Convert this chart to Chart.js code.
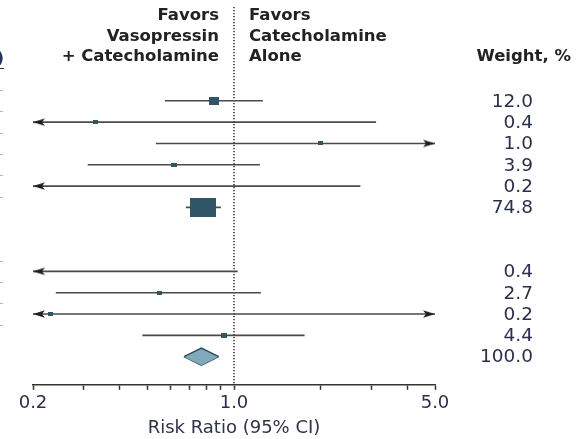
<!DOCTYPE html>
<html>
<head>
<meta charset="utf-8">
<script src="https://cdn.jsdelivr.net/npm/chart.js@4.4.1/dist/chart.umd.min.js"></script>
<style>
  html, body { margin: 0; padding: 0; background: #ffffff; }
  #wrap { width: 583px; height: 439px; }
</style>
</head>
<body>
<div id="wrap"><canvas id="forest" width="583" height="439"></canvas></div>
<script>
// Study-level risk ratios (rows in display order; null rows are subgroup spacers)
const studyWeights = [12.0, 0.4, 1.0, 3.9, 0.2, 74.8, null, null, 0.4, 2.7, 0.2, 4.4];
const riskRatio    = [0.85, 0.33, 2.00, 0.62, 0.10, 0.78, null, null, 0.12, 0.55, 0.23, 0.92];
const ciLower      = [0.575, 0.03, 0.535, 0.31, 0.01, 0.68, null, null, 0.01, 0.24, 0.02, 0.48];
const ciUpper      = [1.26, 3.12, 8.00, 1.23, 2.75, 0.90, null, null, 1.03, 1.24, 12.0, 1.76];

// Pooled estimate
const pooledRR     = [0.77];
const pooledLower  = [0.67];
const pooledUpper  = [0.885];
const pooledWeight = [100.0];

// Axis ticks
const majorTicks = [0.2, 1.0, 5.0];
const minorTicks = [0.3, 0.4, 0.5, 0.6, 0.7, 0.8, 0.9, 2, 3, 4];

const X_MIN = 0.2, X_MAX = 5.0;
const Y_TOP = -4.4, Y_BOTTOM = 13.32;
const pooledRow = studyWeights.length;

const BOX_COLOR = '#2f5666';
const LINE_COLOR = '#4a4a4a';
const TEXT_DARK = '#222222';
const NUM_COLOR = '#2a3048';

// Small canvases used as point glyphs
function makeBox(w, h) {
  const c = document.createElement('canvas');
  c.width = Math.round(w); c.height = Math.round(h);
  const g = c.getContext('2d');
  g.fillStyle = BOX_COLOR;
  g.fillRect(0, 0, c.width, c.height);
  return c;
}
function makeArrow(dir) {
  const L = 12, H = 3.8;
  const c = document.createElement('canvas');
  c.width = 2 * L + 2; c.height = 10;
  const g = c.getContext('2d');
  const cx = c.width / 2, cy = c.height / 2;
  g.fillStyle = '#1e1e1e';
  g.beginPath();
  g.moveTo(cx, cy);
  g.lineTo(cx + dir * L, cy - H);
  g.lineTo(cx + dir * (L - 3), cy);
  g.lineTo(cx + dir * L, cy + H);
  g.closePath();
  g.fill();
  return c;
}
const leftArrow = makeArrow(1);   // tip at centre, pointing left
const rightArrow = makeArrow(-1); // tip at centre, pointing right

// Build datasets
const datasets = [];

// Point estimate boxes (size grows with weight)
const boxPoints = [], boxGlyphs = [];
riskRatio.forEach((rr, i) => {
  if (rr === null) return;
  const w = Math.max(4.5, 3 * Math.sqrt(studyWeights[i]));
  boxPoints.push({ x: rr, y: i });
  boxGlyphs.push(makeBox(w, Math.max(3.5, w * 0.74)));
});
datasets.push({
  type: 'scatter', data: boxPoints, order: 0,
  pointStyle: ctx => boxGlyphs[ctx.dataIndex],
  pointRadius: 6, pointHoverRadius: 6
});

// Arrowheads for intervals running past the axis limits
const arrowPts = [], arrowGlyphs = [];
ciLower.forEach((lo, i) => {
  if (lo === null) return;
  if (lo < X_MIN) { arrowPts.push({ x: X_MIN, y: i }); arrowGlyphs.push(leftArrow); }
  if (ciUpper[i] > X_MAX) { arrowPts.push({ x: X_MAX, y: i }); arrowGlyphs.push(rightArrow); }
});
datasets.push({
  type: 'scatter', data: arrowPts, order: 1, clip: false,
  pointStyle: ctx => arrowGlyphs[ctx.dataIndex],
  pointRadius: 6, pointHoverRadius: 6
});

// Confidence interval lines
ciLower.forEach((lo, i) => {
  if (lo === null) return;
  datasets.push({
    type: 'scatter', showLine: true, order: 2,
    data: [{ x: lo, y: i }, { x: ciUpper[i], y: i }],
    borderColor: LINE_COLOR, borderWidth: 1.6, pointRadius: 0, pointHoverRadius: 0
  });
});

// Pooled diamond: upper and lower halves, filled between
datasets.push({
  type: 'scatter', showLine: true, order: 1,
  data: [{ x: pooledLower[0], y: pooledRow }, { x: pooledRR[0], y: pooledRow - 0.4 }, { x: pooledUpper[0], y: pooledRow }],
  borderColor: '#2e4b59', borderWidth: 1.4, pointRadius: 0,
  backgroundColor: '#80a9bb', fill: '+1', tension: 0
});
datasets.push({
  type: 'scatter', showLine: true, order: 1,
  data: [{ x: pooledLower[0], y: pooledRow }, { x: pooledRR[0], y: pooledRow + 0.4 }, { x: pooledUpper[0], y: pooledRow }],
  borderColor: '#2e4b59', borderWidth: 1.4, pointRadius: 0, fill: false, tension: 0
});

// Line of no effect
datasets.push({
  type: 'scatter', showLine: true, order: 3,
  data: [{ x: 1, y: Y_TOP }, { x: 1, y: Y_BOTTOM }],
  borderColor: '#2a2a2a', borderWidth: 1.5, borderDash: [1.2, 1.8], pointRadius: 0
});

// Text and decorations outside the plotting area
const annotations = {
  id: 'forestText',
  afterDraw(chart) {
    const { ctx, chartArea, scales: { x, y } } = chart;
    const x1 = x.getPixelForValue(1);
    ctx.save();

    // Column headers
    ctx.fillStyle = TEXT_DARK;
    ctx.font = 'bold 16.5px "DejaVu Sans"';
    ctx.textBaseline = 'alphabetic';
    ctx.textAlign = 'right';
    ['Favors', 'Vasopressin', '+ Catecholamine'].forEach((t, k) => ctx.fillText(t, x1 - 15, 20 + k * 20.5));
    ctx.textAlign = 'left';
    ['Favors', 'Catecholamine', 'Alone'].forEach((t, k) => ctx.fillText(t, x1 + 15, 20 + k * 20.5));
    ctx.textAlign = 'right';
    ctx.fillText('Weight, %', 571, 61);

    // Tail of the left-hand column header
    ctx.fillStyle = '#2a3358';
    ctx.fillText(')', 4, 63);
    ctx.strokeStyle = '#333';
    ctx.lineWidth = 1;
    ctx.beginPath(); ctx.moveTo(0, 68.5); ctx.lineTo(4, 68.5); ctx.stroke();

    // Weight column
    ctx.fillStyle = NUM_COLOR;
    ctx.font = '18.5px "DejaVu Sans"';
    ctx.textBaseline = 'middle';
    ctx.textAlign = 'right';
    const wx = chartArea.right + 98;
    studyWeights.forEach((w, i) => {
      if (w === null) return;
      ctx.fillText(w.toFixed(1), wx, y.getPixelForValue(i) + 1);
    });
    ctx.fillText(pooledWeight[0].toFixed(1), wx, y.getPixelForValue(pooledRow) + 1);

    // Row separators at left edge
    ctx.strokeStyle = '#b8b8b8';
    ctx.lineWidth = 1;
    studyWeights.forEach((w, i) => {
      if (w === null) return;
      const yy = Math.round(y.getPixelForValue(i - 0.5)) + 0.5;
      ctx.beginPath(); ctx.moveTo(0, yy); ctx.lineTo(3, yy); ctx.stroke();
    });
    ctx.restore();
  }
};

new Chart(document.getElementById('forest'), {
  type: 'scatter',
  data: { datasets },
  options: {
    responsive: false,
    animation: false,
    devicePixelRatio: 1,
    layout: { padding: { top: 7, left: 33, right: 148, bottom: 0 } },
    plugins: { legend: { display: false }, tooltip: { enabled: false } },
    scales: {
      x: {
        type: 'logarithmic',
        min: X_MIN, max: X_MAX,
        afterBuildTicks(scale) {
          scale.ticks = majorTicks.concat(minorTicks).sort((a, b) => a - b).map(v => ({ value: v, major: majorTicks.includes(v) }));
        },
        ticks: {
          autoSkip: false, maxRotation: 0, padding: 3,
          color: NUM_COLOR,
          font: { family: '"DejaVu Sans"', size: 18 },
          callback: v => (majorTicks.includes(v) ? Number(v).toFixed(1) : '')
        },
        grid: { display: true, drawOnChartArea: false, drawTicks: true, tickLength: 5, tickColor: '#333', tickWidth: 1.5 },
        border: { display: true, color: '#333', width: 1.5 },
        title: {
          display: true, text: 'Risk Ratio (95% CI)',
          color: '#2e3448',
          font: { family: '"DejaVu Sans"', size: 18 },
          padding: { top: 0, bottom: 0 }
        }
      },
      y: {
        type: 'linear', display: false, reverse: true,
        min: Y_TOP, max: Y_BOTTOM
      }
    }
  },
  plugins: [annotations]
});
</script>
</body>
</html>
